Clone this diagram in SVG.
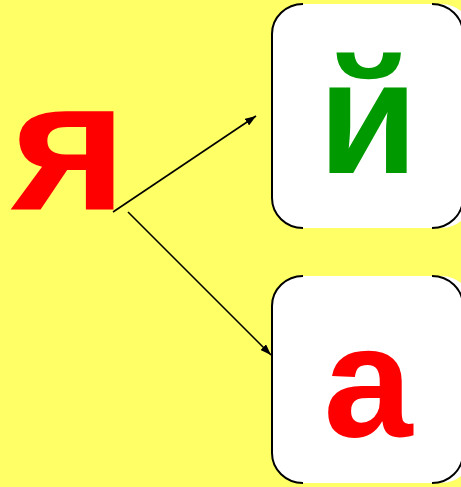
<svg xmlns="http://www.w3.org/2000/svg" width="461" height="487" viewBox="0 0 461 487">
<style>
.bg{fill:#FFFF66}
.box{fill:#FFFFFF}
.edge{fill:none;stroke:#000;stroke-width:2}
.conn{stroke:#000;stroke-width:1.6;fill:none;marker-end:url(#ah)}
.big{font-family:"Liberation Sans",Arial,sans-serif;font-weight:bold;text-anchor:middle}
</style>
<defs>
<marker id="ah" viewBox="0 0 11 8" refX="11" refY="4" markerWidth="11" markerHeight="8" markerUnits="userSpaceOnUse" orient="auto">
<path d="M0,0 L11,4 L0,8 Z" fill="#000"/>
</marker>
</defs>
<rect class="bg" x="0" y="0" width="461" height="487"/>
<g id="node-ya">
<text class="big" transform="translate(69,209) scale(1.08,1)" x="0" y="0" font-size="185" fill="#FF0000">я</text>
</g>
<g id="node-y">
<rect class="box" x="272" y="4" width="200" height="224" rx="31" ry="30"/>
<path class="edge" d="M303,4 A31,30 0 0 0 272,34 L272,198 A31,30 0 0 0 303,228 M432,4 A31,30 0 0 1 463,34 M463,198 A31,30 0 0 1 432,228"/>
<text class="big" x="368" y="173" font-size="162" fill="#009900">й</text>
</g>
<g id="node-a">
<rect class="box" x="272" y="276" width="200" height="207" rx="31" ry="30"/>
<path class="edge" d="M303,276 A31,30 0 0 0 272,306 L272,453 A31,30 0 0 0 303,483 M432,276 A31,30 0 0 1 463,306 M463,453 A31,30 0 0 1 432,483"/>
<text class="big" x="368" y="436" font-size="160" fill="#FF0000">а</text>
</g>
<g id="connectors">
<line class="conn" x1="113" y1="212" x2="256" y2="116"/>
<line class="conn" x1="128" y1="212" x2="271" y2="355"/>
</g>
</svg>
